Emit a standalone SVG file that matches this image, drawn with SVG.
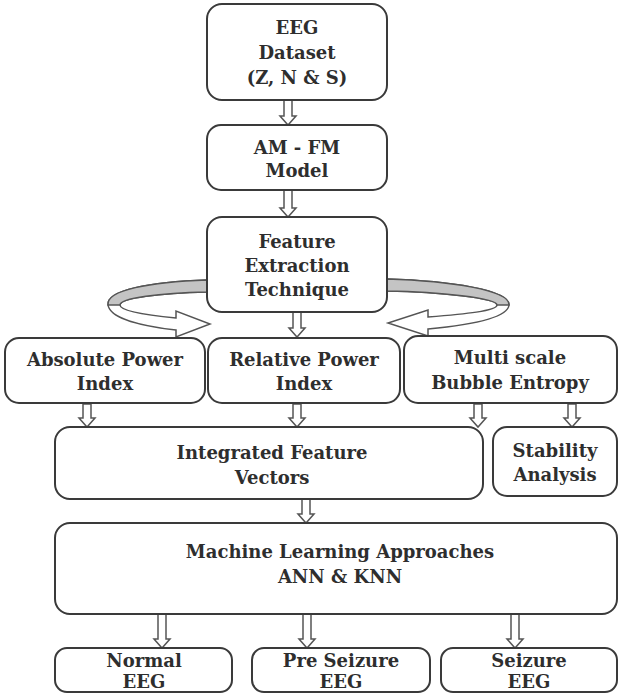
<svg xmlns="http://www.w3.org/2000/svg" width="621" height="697" viewBox="0 0 621 697">
<style>
.box{fill:#fff;stroke:#3a3a3a;stroke-width:2}
.t{font-family:"DejaVu Serif","Liberation Serif",serif;font-weight:bold;font-size:18px;fill:#2e2e2e;text-anchor:middle}
.ar{fill:#fff;stroke:#555;stroke-width:1.5;stroke-linejoin:miter}
.band{fill:#c4c4c4;stroke:#555;stroke-width:1.5}
</style>
<rect width="621" height="697" fill="#fff"/>
<g id="connectors">
<polygon class="ar" points="284,100 292,100 292,116 296,116 288,125 280,116 284,116"/>
<polygon class="ar" points="284,190 292,190 292,208 296,208 288,217 280,208 284,208"/>
<polygon class="ar" points="293,312 301,312 301,328 305,328 297,337 289,328 293,328"/>
<polygon class="ar" points="83,404 91,404 91,418 95,418 87,427 79,418 83,418"/>
<polygon class="ar" points="293,404 301,404 301,418 305,418 297,427 289,418 293,418"/>
<polygon class="ar" points="474,404 482,404 482,418 486,418 478,427 470,418 474,418"/>
<polygon class="ar" points="568,404 576,404 576,418 580,418 572,427 564,418 568,418"/>
<polygon class="ar" points="302,499 310,499 310,514 314,514 306,523 298,514 302,514"/>
<polygon class="ar" points="158,614 166,614 166,639 170,639 162,648 154,639 158,639"/>
<polygon class="ar" points="303,614 311,614 311,639 315,639 307,648 299,639 303,639"/>
<polygon class="ar" points="511,614 519,614 519,639 523,639 515,648 507,639 511,639"/>
<g id="left-loop">
<path class="ar" d="M207,280 C150,282 106,290 108,305 C110,318 140,326 176,330 L176,337 L210,324 L176,311 L176,318 C145,315 120,311 120,305 C120,298 160,293 207,292 Z"/>
<path class="band" d="M207,280 C150,282 106,290 108,305 L120,305 C120,298 160,293 207,292 Z"/>
</g>
<g id="right-loop">
<path class="ar" d="M387,279 C450,281 510,290 509,305 C508,318 470,325 428,329 L428,336 L388,323 L428,310 L428,317 C465,314 497,311 497,305 C497,298 440,292 387,291 Z"/>
<path class="band" d="M387,279 C450,281 510,290 509,305 L497,305 C497,298 440,292 387,291 Z"/>
</g>
</g>
<g id="n-dataset"><rect class="box" x="207" y="4" width="180" height="96" rx="15"/>
<text class="t" x="297" y="34">EEG</text><text class="t" x="297" y="59">Dataset</text><text class="t" x="297" y="84">(Z, N &amp; S)</text></g>
<g id="n-amfm"><rect class="box" x="207" y="125" width="180" height="65" rx="14"/>
<text class="t" x="297" y="154">AM - FM</text><text class="t" x="297" y="177">Model</text></g>
<g id="n-feature"><rect class="box" x="207" y="217" width="180" height="95" rx="15"/>
<text class="t" x="297" y="248">Feature</text><text class="t" x="297" y="272">Extraction</text><text class="t" x="297" y="296">Technique</text></g>
<g id="n-abs"><rect class="box" x="5" y="338" width="200" height="65" rx="14"/>
<text class="t" x="105" y="366">Absolute Power</text><text class="t" x="105" y="390">Index</text></g>
<g id="n-rel"><rect class="box" x="208" y="338" width="192" height="65" rx="14"/>
<text class="t" x="304" y="366">Relative Power</text><text class="t" x="304" y="390">Index</text></g>
<g id="n-mse"><rect class="box" x="404" y="336" width="213" height="67" rx="14"/>
<text class="t" x="510" y="364">Multi scale</text><text class="t" x="510" y="389">Bubble Entropy</text></g>
<g id="n-ifv"><rect class="box" x="55" y="427" width="428" height="72" rx="15"/>
<text class="t" x="272" y="459">Integrated Feature</text><text class="t" x="272" y="484">Vectors</text></g>
<g id="n-stab"><rect class="box" x="493" y="427" width="124" height="69" rx="14"/>
<text class="t" x="555" y="457">Stability</text><text class="t" x="555" y="481">Analysis</text></g>
<g id="n-ml"><rect class="box" x="55" y="523" width="562" height="91" rx="15"/>
<text class="t" x="340" y="558">Machine Learning Approaches</text><text class="t" x="340" y="583">ANN &amp; KNN</text></g>
<g id="n-normal"><rect class="box" x="55" y="648" width="177" height="44" rx="12"/>
<text class="t" x="144" y="667">Normal</text><text class="t" x="144" y="688">EEG</text></g>
<g id="n-pre"><rect class="box" x="252" y="648" width="178" height="44" rx="12"/>
<text class="t" x="341" y="667">Pre Seizure</text><text class="t" x="341" y="688">EEG</text></g>
<g id="n-seiz"><rect class="box" x="441" y="648" width="176" height="44" rx="12"/>
<text class="t" x="529" y="667">Seizure</text><text class="t" x="529" y="688">EEG</text></g>
</svg>
